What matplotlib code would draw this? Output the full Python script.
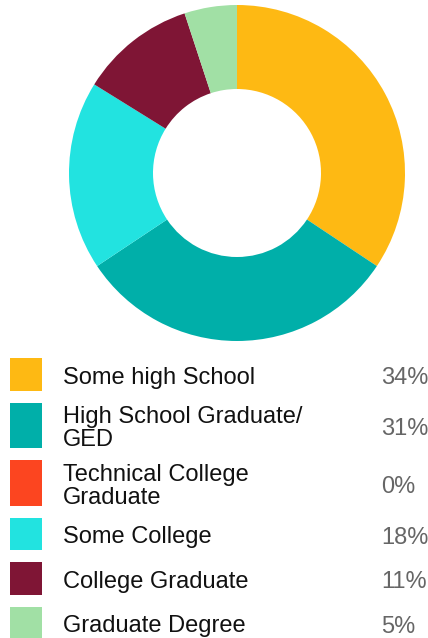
import matplotlib
matplotlib.use("Agg")
import matplotlib.pyplot as plt
from matplotlib.patches import Rectangle

plt.rcParams['font.family'] = ['Liberation Sans', 'DejaVu Sans']

# Education level breakdown
categories = ["Some high School", "High School Graduate/\nGED", "Technical College\nGraduate",
              "Some College", "College Graduate", "Graduate Degree"]
shares = [34, 31, 0, 18, 11, 5]
share_labels = ["34%", "31%", "0%", "18%", "11%", "5%"]
colors = ["#FEB913", "#00AFA9", "#FC4520", "#22E3E0", "#7F1535", "#A1E0A5"]

W, H = 428, 638
fig = plt.figure(figsize=(W / 100, H / 100), dpi=100)

# Donut chart, clockwise from 12 o'clock
cx, cy, r = 237, 173, 168
ax = fig.add_axes([(cx - r) / W, (H - cy - r) / H, 2 * r / W, 2 * r / H])
ax.pie(shares, colors=colors, startangle=90, counterclock=False, radius=1,
       wedgeprops=dict(width=0.5, linewidth=0))
ax.set_xlim(-1, 1)
ax.set_ylim(-1, 1)
ax.axis("off")

# Legend laid out in pixel coordinates
lg = fig.add_axes([0, 0, 1, 1])
lg.set_xlim(0, W)
lg.set_ylim(H, 0)
lg.axis("off")

y = 358
for name, lab, col in zip(categories, share_labels, colors):
    h = 45.5 if "\n" in name else 32.5
    lg.add_patch(Rectangle((10, y), 32, h, facecolor=col, edgecolor="none"))
    mid = y + h / 2 + 3.5
    lg.text(63, mid, name, fontsize=17, color="#111111", va="center", ha="left",
            linespacing=1.06)
    lg.text(381, mid + 0.5, lab, fontsize=17, color="#666666", va="center", ha="left")
    y += h + 12

fig.savefig("out.png", dpi=100)
